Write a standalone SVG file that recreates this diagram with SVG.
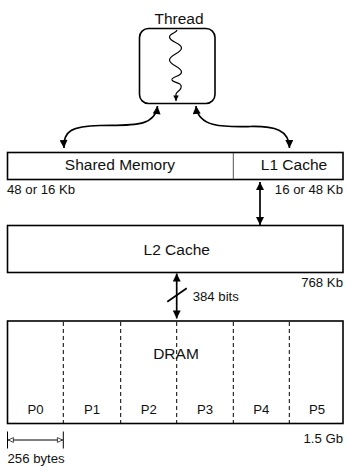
<svg xmlns="http://www.w3.org/2000/svg" width="348" height="466" viewBox="0 0 348 466">
  <style>
    .box { fill: #fff; stroke: #000; stroke-width: 1.6; }
    .title { font-family: "Liberation Sans", Arial, sans-serif; font-size: 15.5px; fill: #111; text-anchor: middle; }
    .note { font-family: "Liberation Sans", Arial, sans-serif; font-size: 13.2px; fill: #111; }
    .end { text-anchor: end; }
    .mid { text-anchor: middle; }
    .wire { fill: none; stroke: #000; stroke-width: 1.7; }
    .dash { stroke: #000; stroke-width: 1; stroke-dasharray: 4 3; }
    .thin { stroke: #000; stroke-width: 1; fill: none; }
    .wave { stroke: #000; stroke-width: 1.2; fill: none; }
  </style>
  <defs>
    <marker id="head" viewBox="0 0 10 10" refX="10" refY="5" markerUnits="userSpaceOnUse" markerWidth="10" markerHeight="8" orient="auto-start-reverse">
      <path d="M0,0 L10,5 L0,10 z" fill="#000"/>
    </marker>
    <marker id="headSmall" viewBox="0 0 10 10" refX="10" refY="5" markerUnits="userSpaceOnUse" markerWidth="7" markerHeight="5.5" orient="auto">
      <path d="M0,0 L10,5 L0,10 z" fill="#000"/>
    </marker>
    <marker id="open" viewBox="0 0 10 10" refX="10" refY="5" markerUnits="userSpaceOnUse" markerWidth="8" markerHeight="6" orient="auto-start-reverse">
      <path d="M1,1 L9.5,5 L1,9 z" fill="#fff" stroke="#000" stroke-width="1.2"/>
    </marker>
  </defs>

  <!-- thread -->
  <g id="thread">
    <text class="title" x="179" y="24">Thread</text>
    <rect class="box" x="139.5" y="28.5" width="75.5" height="75" rx="9"/>
    <path class="wave" d="M177,30 C177,33 169.5,33 169.5,37 C169.5,42 181.5,43 181.5,48 C181.5,53 169.5,55 169.5,60 C169.5,65 181.5,67 181.5,72 C181.5,77 171,76 172,80 C173,83 183,82 181,88 C180,91 176,92 176,94 L176,101" marker-end="url(#headSmall)"/>
  </g>

  <!-- shared memory / L1 -->
  <g id="l1">
    <rect class="box" x="7.5" y="152.5" width="335.5" height="27"/>
    <line x1="233.3" y1="153" x2="233.3" y2="179" stroke="#555" stroke-width="1"/>
    <text class="title" x="120" y="169.5">Shared Memory</text>
    <text class="title" x="294" y="169.5">L1 Cache</text>
    <text class="note" x="7" y="194">48 or 16 Kb</text>
    <text class="note end" x="343" y="194">16 or 48 Kb</text>
  </g>

  <!-- L2 -->
  <g id="l2">
    <rect class="box" x="7.5" y="225.5" width="335.5" height="47"/>
    <text class="title" x="176.7" y="254.5">L2 Cache</text>
    <text class="note end" x="343" y="286.5">768 Kb</text>
  </g>

  <!-- DRAM -->
  <g id="dram">
    <rect class="box" x="7.5" y="321" width="335.5" height="102.5"/>
    <line class="dash" x1="63.3" y1="322" x2="63.3" y2="423"/>
    <line class="dash" x1="120.7" y1="322" x2="120.7" y2="423"/>
    <line class="dash" x1="176.7" y1="322" x2="176.7" y2="423"/>
    <line class="dash" x1="233.3" y1="322" x2="233.3" y2="423"/>
    <line class="dash" x1="289.3" y1="322" x2="289.3" y2="423"/>
    <text class="title" x="176" y="358.5">DRAM</text>
    <text class="note mid" x="35.5" y="413.5">P0</text>
    <text class="note mid" x="92" y="413.5">P1</text>
    <text class="note mid" x="148.7" y="413.5">P2</text>
    <text class="note mid" x="205" y="413.5">P3</text>
    <text class="note mid" x="261.3" y="413.5">P4</text>
    <text class="note mid" x="317" y="413.5">P5</text>
    <text class="note end" x="343" y="443">1.5 Gb</text>
  </g>

  <!-- partition width -->
  <g id="partition-size">
    <line class="thin" x1="7.5" y1="431.5" x2="7.5" y2="448.5"/>
    <line class="thin" x1="63.3" y1="431.5" x2="63.3" y2="448.5"/>
    <line class="thin" x1="8" y1="440" x2="62.8" y2="440" marker-start="url(#open)" marker-end="url(#open)"/>
    <text class="note" x="7.5" y="462.5">256 bytes</text>
  </g>

  <!-- connectors -->
  <g id="connectors">
    <path class="wire" d="M64,148 C63,131 72,126 100,125.5 C130,125 155,128 157.5,106" marker-start="url(#head)" marker-end="url(#head)"/>
    <path class="wire" d="M196,106 C198,128 225,127 250,126.5 C275,126 289,130 289.5,148" marker-start="url(#head)" marker-end="url(#head)"/>
    <line class="wire" x1="260" y1="182" x2="260" y2="225" marker-start="url(#head)" marker-end="url(#head)"/>
    <line class="wire" x1="176.7" y1="273.5" x2="176.7" y2="318.5" marker-start="url(#head)" marker-end="url(#head)"/>
    <line class="wire" x1="167.3" y1="301.7" x2="186.7" y2="288.3"/>
    <text class="note" x="192.7" y="300.5">384 bits</text>
  </g>
</svg>
